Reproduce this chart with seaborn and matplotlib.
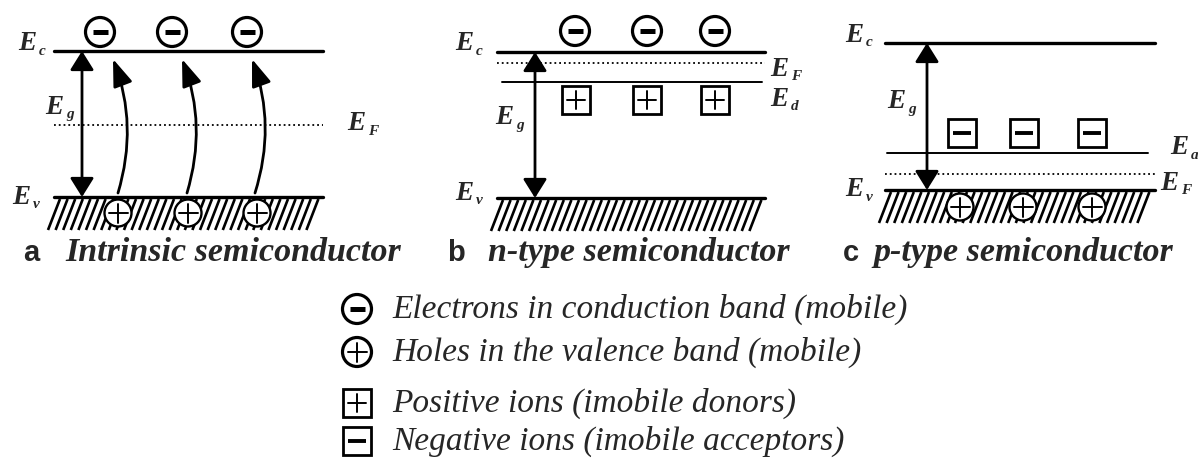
import matplotlib
matplotlib.use('Agg')
import matplotlib.pyplot as plt
import seaborn as sns
import numpy as np
from matplotlib.patches import Circle, Rectangle, FancyArrowPatch

sns.set_theme(style="white")
plt.rcParams['font.family'] = ['Liberation Serif', 'DejaVu Serif']

# ---- data (pixel positions) ----
panel_letters = ['a', 'b', 'c']
panel_titles = ['Intrinsic semiconductor', 'n-type semiconductor', 'p-type semiconductor']
letter_x = [23, 447, 843]
title_x = [65, 488, 873]
title_base = 261

band_left = [54, 497, 885]
band_right = [323, 765, 1155]
ec_y = [51, 52, 43]
ev_y = [197, 198, 190]
ef_y = [125, 63, 174]
gap_arrow_x = [82, 535, 927]

# impurity level (only b and c)
imp_y = [None, 82, 153]
imp_left = [None, 502, 887]
imp_right = [None, 762, 1148]

electron_x = [[100, 172, 247], [575, 647, 715], []]
electron_y = [32, 31, None]
hole_x = [[118, 188, 257], [], [960, 1023, 1092]]
hole_y = [213, None, 207]
donor_x = [576, 647, 715]
donor_y = 100
acceptor_x = [962, 1024, 1092]
acceptor_y = 133

# curved excitation arrows (panel a)
excite_start_x = [118, 187, 255]
excite_end_x = [113, 182, 252]
excite_start_y = 193
excite_end_y = 59

# energy labels: (subscript, x, y-centre of the E)
energy_labels = [
    ('c', 18, 42), ('g', 45, 105), ('F', 347, 122), ('v', 12, 195),
    ('c', 455, 42), ('F', 770, 67), ('d', 770, 97), ('g', 495, 116), ('v', 455, 191),
    ('c', 845, 33), ('g', 887, 100), ('a', 1170, 146), ('F', 1160, 181), ('v', 845, 188),
]

legend_texts = ['Electrons in conduction band (mobile)',
                'Holes in the valence band (mobile)',
                'Positive ions (imobile donors)',
                'Negative ions (imobile acceptors)']
legend_kind = ['electron', 'hole', 'donor', 'acceptor']
legend_y = [309, 352, 403, 441]
legend_sym_x = 357
legend_text_x = 392

W, H = 1198, 459
fig = plt.figure(figsize=(W / 100, H / 100), dpi=100)
ax = fig.add_axes([0, 0, 1, 1])
ax.set_xlim(0, W)
ax.set_ylim(H, 0)
ax.axis('off')


def level(x0, x1, y, lw, ls='-'):
    sns.lineplot(x=[x0, x1], y=[y, y], color='black', lw=lw, linestyle=ls, ax=ax,
                 legend=False, zorder=2)


def hatch(x0, x1, y0):
    for x in np.arange(x0 + 6, x1 + 1, 7.6):
        ax.plot([x, x - 12], [y0 + 2, y0 + 33], color='black', lw=1.9,
                solid_capstyle='butt', zorder=1)


def circ_sign(x, y, sign, r=14.5, lw=2.3):
    ax.add_patch(Circle((x, y), r, facecolor='white', edgecolor='black', lw=lw, zorder=4))
    if sign == '-':
        ax.plot([x - 7.5, x + 7.5], [y, y], color='black', lw=3.6, solid_capstyle='butt', zorder=5)
    else:
        ax.plot([x - 9.5, x + 9.5], [y, y], color='black', lw=1.4, zorder=5)
        ax.plot([x, x], [y - 9.5, y + 9.5], color='black', lw=1.4, zorder=5)


def box_sign(x, y, sign, s=28):
    ax.add_patch(Rectangle((x - s / 2, y - s / 2), s, s, facecolor='white',
                           edgecolor='black', lw=2.0, zorder=4))
    if sign == '-':
        ax.plot([x - 9, x + 9], [y, y], color='black', lw=2.8, solid_capstyle='butt', zorder=5)
    else:
        ax.plot([x - 9, x + 9], [y, y], color='black', lw=1.4, zorder=5)
        ax.plot([x, x], [y - 9, y + 9], color='black', lw=1.4, zorder=5)


for i in range(3):
    level(band_left[i], band_right[i], ec_y[i], 2.4)
    level(band_left[i], band_right[i], ev_y[i], 2.4)
    level(band_left[i], band_right[i], ef_y[i], 1.3, ':')
    if imp_y[i] is not None:
        level(imp_left[i], imp_right[i], imp_y[i], 1.4)
    hatch(band_left[i], band_right[i], ev_y[i])
    ax.add_patch(FancyArrowPatch((gap_arrow_x[i], ev_y[i]), (gap_arrow_x[i], ec_y[i]),
                                 arrowstyle='<|-|>,head_length=0.4,head_width=0.25',
                                 mutation_scale=29, color='black',
                                 lw=2.0, shrinkA=0, shrinkB=0, zorder=3))
    for x in electron_x[i]:
        circ_sign(x, electron_y[i], '-')
    for x in hole_x[i]:
        circ_sign(x, hole_y[i], '+', r=13.5, lw=1.7)
    ax.text(letter_x[i], title_base, panel_letters[i], family='Liberation Sans',
            fontweight='bold', fontsize=21, va='baseline', ha='left')
    ax.text(title_x[i], title_base, panel_titles[i], fontweight='bold', style='italic',
            fontsize=24.5, va='baseline', ha='left')

for x in donor_x:
    box_sign(x, donor_y, '+')
for x in acceptor_x:
    box_sign(x, acceptor_y, '-')

for x0, x1 in zip(excite_start_x, excite_end_x):
    ax.add_patch(FancyArrowPatch((x0, excite_start_y), (x1, excite_end_y),
                                 connectionstyle='arc3,rad=0.17',
                                 arrowstyle='-|>,head_length=0.55,head_width=0.2',
                                 mutation_scale=30, color='black', lw=2.0,
                                 shrinkA=0, shrinkB=0, zorder=3))

for sub, x, y in energy_labels:
    ax.text(x, y + 8.5, 'E', fontweight='bold', style='italic', fontsize=19.5,
            va='baseline', ha='left')
    ax.text(x + 21, y + 13, sub, fontweight='bold', style='italic', fontsize=11,
            va='baseline', ha='left')

for kind, y, txt in zip(legend_kind, legend_y, legend_texts):
    if kind == 'electron':
        circ_sign(legend_sym_x, y, '-', r=14.5)
    elif kind == 'hole':
        circ_sign(legend_sym_x, y, '+', r=14.5, lw=2.3)
    elif kind == 'donor':
        box_sign(legend_sym_x, y, '+', s=28)
    else:
        box_sign(legend_sym_x, y, '-', s=28)
    ax.text(legend_text_x, y + 8.5, txt, style='italic', fontsize=24, va='baseline', ha='left')

fig.savefig('out.png', dpi=100)
